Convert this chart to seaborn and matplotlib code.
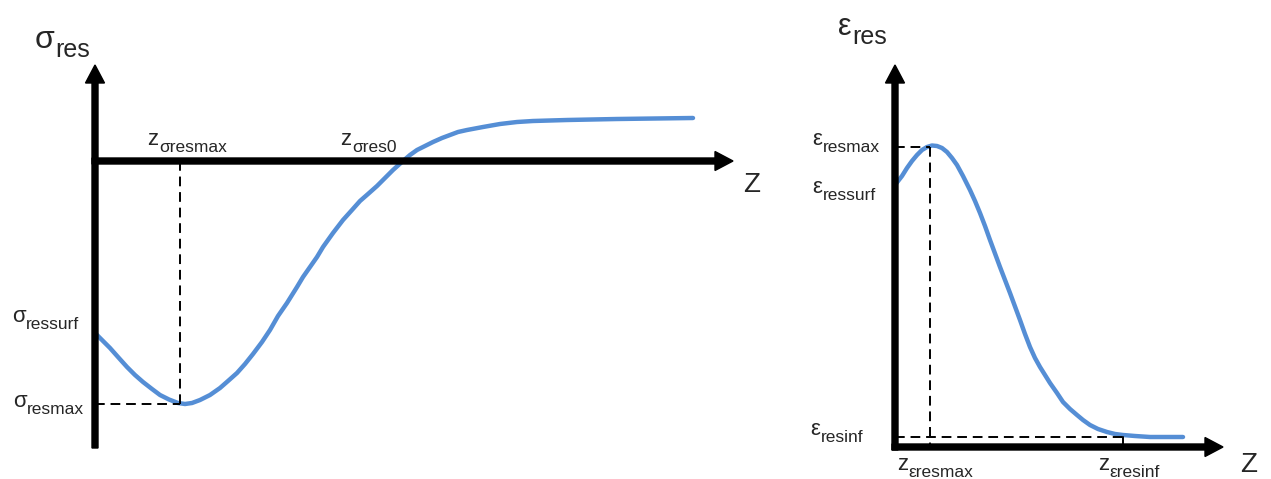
# Residual stress / residual strain depth profiles (schematic)

import numpy as np
import pandas as pd
import matplotlib.pyplot as plt
import seaborn as sns

sns.set_style('white')
plt.rcParams['font.family'] = ['Liberation Sans', 'DejaVu Sans']

# sigma_res(z) profile (arbitrary units)
z_sigma = [0.00, 0.08, 0.15, 0.23, 0.32, 0.40, 0.48, 0.57, 0.65, 0.74,
           0.83, 0.90, 0.97, 1.05, 1.15, 1.25, 1.33, 1.42, 1.50, 1.58,
           1.67, 1.75, 1.83, 1.92, 2.02, 2.08, 2.15, 2.22, 2.28, 2.38,
           2.48, 2.57, 2.65, 2.73, 2.82, 2.90, 2.98, 3.08, 3.15, 3.22,
           3.30, 3.38, 3.47, 3.55, 3.63, 3.72, 3.88, 4.05, 4.22, 4.38,
           4.55, 4.72, 4.97, 5.22, 5.60, 5.98]
sigma_res = [-1.72, -1.80, -1.87, -1.96, -2.06, -2.14, -2.21, -2.28, -2.34, -2.385,
             -2.42, -2.43, -2.42, -2.39, -2.34, -2.27, -2.20, -2.12, -2.03, -1.93,
             -1.81, -1.69, -1.55, -1.42, -1.26, -1.16, -1.06, -0.96, -0.86, -0.72,
             -0.59, -0.49, -0.40, -0.33, -0.25, -0.17, -0.09, 0.00, 0.06, 0.11,
             0.15, 0.19, 0.23, 0.26, 0.29, 0.31, 0.34, 0.37, 0.39, 0.40,
             0.405, 0.41, 0.415, 0.42, 0.425, 0.43]
z_sigma_max = 0.85
sigma_max = -2.43

# eps_res(z) profile
z_eps = [0.00, 0.07, 0.12, 0.17, 0.22, 0.27, 0.32, 0.37, 0.42, 0.47,
         0.52, 0.57, 0.62, 0.68, 0.75, 0.80, 0.85, 0.90, 0.95, 1.05,
         1.15, 1.25, 1.30, 1.35, 1.40, 1.45, 1.50, 1.55, 1.62, 1.68,
         1.75, 1.82, 1.88, 1.95, 2.03, 2.12, 2.20, 2.28, 2.40, 2.55, 2.88]
eps_res = [2.62, 2.71, 2.79, 2.86, 2.92, 2.97, 3.00, 3.015, 3.01, 2.99,
           2.95, 2.89, 2.82, 2.71, 2.57, 2.46, 2.34, 2.21, 2.07, 1.80,
           1.54, 1.27, 1.13, 1.00, 0.89, 0.80, 0.72, 0.64, 0.54, 0.45,
           0.38, 0.32, 0.27, 0.22, 0.18, 0.15, 0.13, 0.12, 0.11, 0.10, 0.10]
z_eps_max = 0.35
eps_max = 3.00
z_eps_inf = 2.28
eps_inf = 0.10

curve_color = '#558ED5'
dash = (0, (5, 3))

df_sigma = pd.DataFrame({'z': z_sigma, 'sigma': sigma_res})
df_eps = pd.DataFrame({'z': z_eps, 'eps': eps_res})


def label(ax, x, y, main, sub, size=16, subsize=12.5):
    t = ax.text(x, y, main, fontsize=size, ha='left', va='baseline', clip_on=False)
    ax.annotate(sub, xy=(1, 0), xycoords=t, xytext=(0.5, -1.5),
                textcoords='offset points', fontsize=subsize,
                ha='left', va='baseline', annotation_clip=False)


def axis_arrow(ax, x0, y0, dx, dy):
    ax.arrow(x0, y0, dx, dy, width=0.06, head_width=0.19, head_length=0.18,
             length_includes_head=True, color='black', zorder=3)


fig = plt.figure(figsize=(12.71, 4.79), dpi=100)

# ---- left panel: sigma_res ----
ax1 = fig.add_axes([0, 0, 780 / 1271, 1])
ax1.set_xlim(-0.95, 6.85)
ax1.set_ylim(-3.18, 1.61)
ax1.axis('off')

sns.lineplot(data=df_sigma, x='z', y='sigma', ax=ax1, color=curve_color,
             lw=3.2, sort=False, estimator=None, zorder=2)
axis_arrow(ax1, 0, -2.87, 0, 3.83)
axis_arrow(ax1, -0.03, 0, 6.41, 0)
ax1.plot([z_sigma_max, z_sigma_max], [0, sigma_max], color='black', lw=1.4, ls=dash)
ax1.plot([0, z_sigma_max], [sigma_max, sigma_max], color='black', lw=1.4, ls=dash)

label(ax1, -0.60, 1.13, 'σ', 'res', size=23, subsize=18)
label(ax1, 0.52, 0.16, 'z', 'σresmax')
label(ax1, 2.45, 0.16, 'z', 'σres0')
label(ax1, -0.83, -1.61, 'σ', 'ressurf')
label(ax1, -0.82, -2.46, 'σ', 'resmax')
ax1.text(6.48, -0.31, 'Z', fontsize=20, ha='left', va='baseline')

# ---- right panel: eps_res ----
ax2 = fig.add_axes([780 / 1271, 0, 491 / 1271, 1])
ax2.set_xlim(-1.15, 3.76)
ax2.set_ylim(-0.32, 4.47)
ax2.axis('off')

sns.lineplot(data=df_eps, x='z', y='eps', ax=ax2, color=curve_color,
             lw=3.2, sort=False, estimator=None, zorder=2)
axis_arrow(ax2, 0, -0.03, 0, 3.85)
axis_arrow(ax2, -0.03, 0, 3.31, 0)
ax2.plot([0, z_eps_max], [eps_max, eps_max], color='black', lw=1.4, ls=dash)
ax2.plot([z_eps_max, z_eps_max], [eps_max, 0], color='black', lw=1.4, ls=dash)
ax2.plot([0, z_eps_inf], [eps_inf, eps_inf], color='black', lw=1.4, ls=dash)
ax2.plot([z_eps_inf, z_eps_inf], [eps_inf, 0], color='black', lw=1.4)

label(ax2, -0.57, 4.12, 'ε', 'res', size=22, subsize=18)
label(ax2, -0.83, 3.02, 'ε', 'resmax')
label(ax2, -0.83, 2.54, 'ε', 'ressurf')
label(ax2, -0.85, 0.12, 'ε', 'resinf')
label(ax2, 0.02, -0.23, 'z', 'εresmax')
label(ax2, 2.03, -0.23, 'z', 'εresinf')
ax2.text(3.45, -0.245, 'Z', fontsize=20, ha='left', va='baseline', clip_on=False)

fig.savefig('out.png', dpi=100)
